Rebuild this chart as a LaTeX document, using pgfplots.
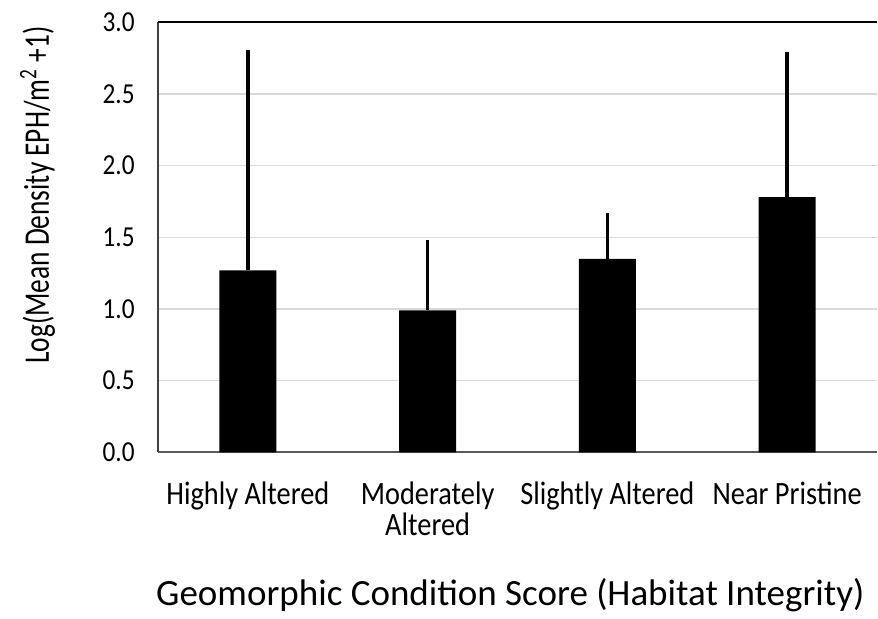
\documentclass[border=0pt]{standalone}
\usepackage{pgfplots}
\pgfplotsset{compat=1.18}
\usepackage{fontspec}
\setmainfont[FakeStretch=0.87]{Carlito}
\newfontfamily\widefont{Carlito}
\newfontfamily\condfont[FakeStretch=0.76]{Carlito}

\definecolor{gridgray}{HTML}{D9D9D9}
\definecolor{axisgray}{HTML}{595959}

\begin{document}
\begin{tikzpicture}
\useasboundingbox (-79pt,-83.35pt) rectangle (360pt,226.15pt);
\begin{axis}[
  at={(0,0)}, anchor=south west,
  scale only axis,
  width=359.5pt, height=215pt,
  xmin=-0.5, xmax=3.5,
  ymin=0, ymax=3,
  ytick={0,0.5,1,1.5,2,2.5,3},
  xtick={0,1,2,3},
  xticklabels={Highly Altered,{Moderately\\Altered},Slightly Altered,Near Pristine},
  major tick length=0pt,
  axis x line*=bottom,
  axis y line*=left,
  x axis line style={-, axisgray, line width=1pt},
  y axis line style={-, black!75, line width=0.8pt},
  ymajorgrids,
  grid style={gridgray, line width=0.75pt},
  /pgf/number format/assume math mode=true,
  yticklabel style={/pgf/number format/.cd, fixed, fixed zerofill, precision=1, /tikz/.cd,
    font=\fontsize{14.5}{17}\selectfont, inner sep=0pt, xshift=-11.5pt},
  xticklabel style={font=\fontsize{16.3}{15.5}\selectfont, align=center, anchor=north,
    inner sep=0pt, yshift=-14.5pt},
  xlabel={Geomorphic Condition Score (Habitat Integrity)},
  xlabel style={font=\widefont\fontsize{18.5}{22}\selectfont, anchor=base, inner sep=0pt,
    at={(axis description cs:0.49,0)}, yshift=-76.5pt},
  ylabel={Log(Mean Density EPH/m\textsuperscript{2} +1)},
  ylabel style={font=\condfont\fontsize{18}{21}\selectfont, rotate=0, anchor=base, inner sep=0pt,
    at={(axis description cs:-0.1516,0.598)}},
  clip=false,
]
\addplot[ybar, bar width=28.5pt, bar shift=0pt, fill=black, draw=none,
  error bars/.cd, y dir=plus, y explicit, error mark=none,
  error bar style={line width=1.8pt, black}]
  coordinates {
    (0,1.27) +- (0,1.54)
    (1,0.99) +- (0,0.49)
    (2,1.35) +- (0,0.32)
    (3,1.78) +- (0,1.01)
  };
\draw[black, line width=1pt] (rel axis cs:0,1) -- (rel axis cs:1,1);
\end{axis}
\end{tikzpicture}
\end{document}
